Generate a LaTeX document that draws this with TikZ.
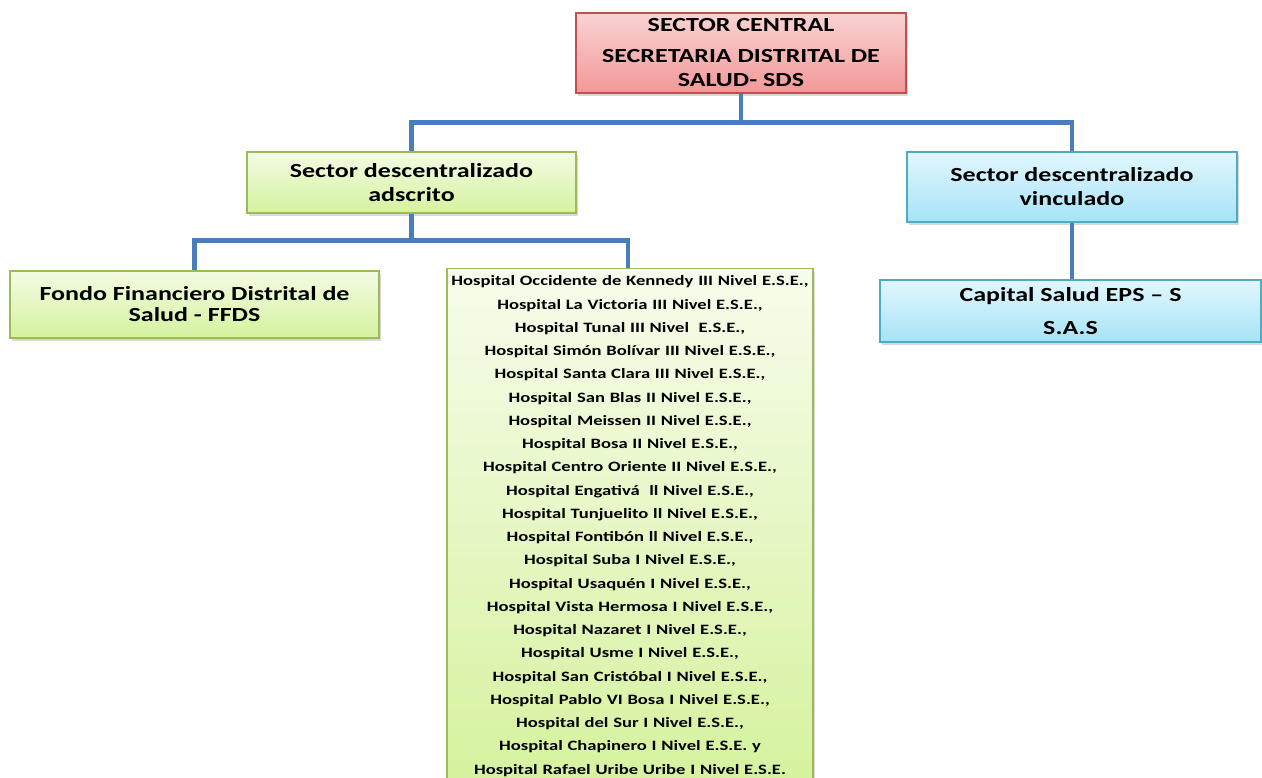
\documentclass[tikz,border=0pt]{standalone}
\usepackage{fontspec}
\newfontfamily\orgfont[FakeStretch=1.3,Ligatures=TeX]{Carlito}
\usepackage{tikz}
\usetikzlibrary{shadows}
\definecolor{linkblue}{HTML}{4A7EBB}
\definecolor{redline}{HTML}{C0504D}
\definecolor{redtop}{HTML}{FAD3D3}
\definecolor{redbottom}{HTML}{F29898}
\definecolor{greenline}{HTML}{9BBB59}
\definecolor{greentop}{HTML}{F3FBE3}
\definecolor{greenbottom}{HTML}{D6F29E}
\definecolor{blueline}{HTML}{4BACC6}
\definecolor{bluetop}{HTML}{E2F7FD}
\definecolor{bluebottom}{HTML}{A6E3F7}

\begin{document}
\begin{tikzpicture}[x=1pt,y=-1pt,
    box/.style={draw,line width=1.5pt,inner sep=0pt,align=center,
      font=\orgfont\bfseries\fontsize{20}{24}\selectfont,
      drop shadow={shadow xshift=2pt,shadow yshift=-3pt,opacity=0.3}},
    redbox/.style={box,draw=redline,top color=redtop,bottom color=redbottom},
    greenbox/.style={box,draw=greenline,top color=greentop,bottom color=greenbottom},
    bluebox/.style={box,draw=blueline,top color=bluetop,bottom color=bluebottom},
    link/.style={draw=linkblue,line width=4.5pt}]
    \useasboundingbox (0,0) rectangle (1262,778);
    \clip (0,0) rectangle (1262,778);

    \node[redbox,minimum width=330,minimum height=80] (central) at (741,53)
      {SECTOR CENTRAL\\[7pt]SECRETARIA DISTRITAL DE\\SALUD- SDS};
    \node[greenbox,minimum width=329,minimum height=61] (adscrito) at (411.5,182.5)
      {Sector descentralizado\\adscrito};
    \node[bluebox,minimum width=330,minimum height=70] (vinculado) at (1072,187)
      {Sector descentralizado\\vinculado};
    \node[greenbox,minimum width=369,minimum height=67] (fondo) at (194.5,304.5)
      {Fondo Financiero Distrital de\\[-3pt]Salud - FFDS};
    \node[bluebox,minimum width=381,minimum height=62] (capital) at (1070.5,311)
      {Capital Salud EPS – S\\[9pt]S.A.S};
    \node[greenbox,anchor=north,text width=366,inner ysep=7pt,
      font=\orgfont\bfseries\fontsize{14.3}{23.25}\selectfont,
      top color=greentop!70!white,bottom color=greenbottom] (hospitales) at (630,268)
      {Hospital Occidente de Kennedy III Nivel E.S.E.,\\
       Hospital La Victoria III Nivel E.S.E.,\\
       Hospital Tunal III Nivel\ \ E.S.E.,\\
       Hospital Simón Bolívar III Nivel E.S.E.,\\
       Hospital Santa Clara III Nivel E.S.E.,\\
       Hospital San Blas II Nivel E.S.E.,\\
       Hospital Meissen II Nivel E.S.E.,\\
       Hospital Bosa II Nivel E.S.E.,\\
       Hospital Centro Oriente II Nivel E.S.E.,\\
       Hospital Engativá\ \ ll Nivel E.S.E.,\\
       Hospital Tunjuelito ll Nivel E.S.E.,\\
       Hospital Fontibón ll Nivel E.S.E.,\\
       Hospital Suba I Nivel E.S.E.,\\
       Hospital Usaquén I Nivel E.S.E.,\\
       Hospital Vista Hermosa I Nivel E.S.E.,\\
       Hospital Nazaret I Nivel E.S.E.,\\
       Hospital Usme I Nivel E.S.E.,\\
       Hospital San Cristóbal I Nivel E.S.E.,\\
       Hospital Pablo VI Bosa I Nivel E.S.E.,\\
       Hospital del Sur I Nivel E.S.E.,\\
       Hospital Chapinero I Nivel E.S.E. y\\
       Hospital Rafael Uribe Uribe I Nivel E.S.E.};

    % connectors
    \path[link] (central.south) -- ++(0,29) -| (adscrito.north);
    \path[link] (central.south) -- ++(0,29) -| (vinculado.north);
    \path[link] (adscrito.south) -- ++(0,27) -| (fondo.north);
    \path[link] (adscrito.south) -- ++(0,27) -| ([xshift=-2pt]hospitales.north);
    \path[link] (vinculado.south) -- (vinculado.south |- capital.north);
  \end{tikzpicture}
\end{document}
